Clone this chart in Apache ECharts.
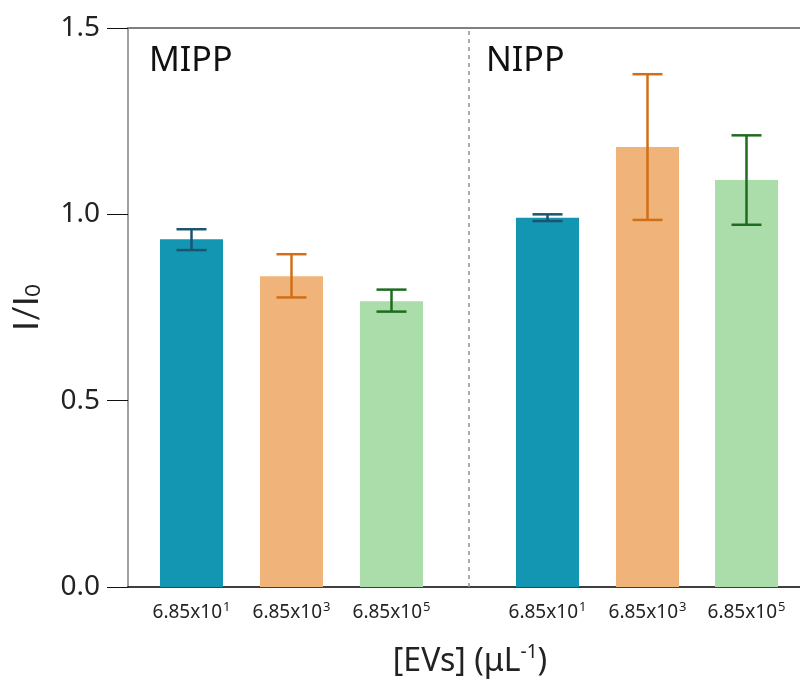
<!DOCTYPE html>
<html><head><meta charset="utf-8">
<script src="https://cdn.jsdelivr.net/npm/echarts@6/dist/echarts.min.js"></script>
<style>html,body{margin:0;padding:0;background:#fff}#c{width:800px;height:681px}</style>
</head><body><div id="c"></div>
<script>
const groupNames = ['MIPP', 'NIPP'];
const tickBase = ['6.85x10', '6.85x10', '6.85x10', '6.85x10', '6.85x10', '6.85x10'];
const tickExp = ['1', '3', '5', '1', '3', '5'];
const xPositions = [0, 1, 2, 3.56, 4.56, 5.55];
const means = [0.933, 0.834, 0.767, 0.991, 1.181, 1.092];
const errLow = [0.904, 0.777, 0.739, 0.982, 0.985, 0.972];
const errHigh = [0.960, 0.893, 0.798, 1.000, 1.376, 1.212];
const dividerX = 2.775;
const yTicks = [0, 0.5, 1.0, 1.5];

const barColors = ['#1396B2', '#F0B47A', '#AADDA9', '#1396B2', '#F0B47A', '#AADDA9'];
const errColors = ['#1C5470', '#CF7018', '#1F6B1F', '#1C5470', '#CF7018', '#1F6B1F'];
const FONT = '"Noto Sans", sans-serif';
const NAMEFONT = 'Lato, "Noto Sans", sans-serif';

const xMin = -0.635, xMax = 6.085;

const chart = echarts.init(document.getElementById('c'), null, {renderer: 'canvas'});
const labelMap = {};
xPositions.forEach((p, i) => { labelMap[p.toFixed(2)] = i; });

chart.setOption({
  animation: false,
  backgroundColor: '#fff',
  textStyle: {fontFamily: FONT},
  grid: {left: 128, right: 0, top: 28, bottom: 94, containLabel: false, outerBoundsMode: 'none'},
  xAxis: [{
    type: 'value', min: xMin, max: xMax, position: 'bottom',
    splitLine: {show: false},
    axisLine: {show: true, onZero: false, lineStyle: {color: '#000', width: 1.5}},
    axisTick: {show: false},
    axisLabel: {
      customValues: xPositions,
      margin: 14,
      fontFamily: FONT,
      formatter: v => {
        const i = labelMap[Number(v).toFixed(2)];
        if (i === undefined) return '';
        return '{b|' + tickBase[i] + '}{s|' + tickExp[i] + '}';
      },
      rich: {
        b: {fontSize: 19, fontFamily: FONT, color: '#222'},
        s: {fontSize: 13, fontFamily: FONT, color: '#222', padding: [0, 0, 10, 1]}
      }
    },
    name: '{n|[EVs] (μL}{s|-1}{n|)}',
    nameLocation: 'middle', nameGap: 56,
    nameTextStyle: {
      fontFamily: FONT,
      padding: [0, 0, 0, 12],
      rich: {
        n: {fontSize: 32, fontFamily: FONT, color: '#222'},
        s: {fontSize: 19, fontFamily: FONT, color: '#222', padding: [0, 0, 18, 0]}
      }
    }
  }, {
    type: 'value', min: xMin, max: xMax, position: 'top',
    splitLine: {show: false},
    axisLine: {show: true, onZero: false, lineStyle: {color: '#808080', width: 2}},
    axisTick: {show: false}, axisLabel: {show: false}
  }],
  yAxis: {
    type: 'value', min: 0, max: 1.5, interval: 0.5,
    splitLine: {show: false},
    axisLine: {show: true, onZero: false, lineStyle: {color: '#808080', width: 1.5}},
    axisTick: {show: true, length: 21, lineStyle: {color: '#111', width: 1}},
    axisLabel: {
      customValues: yTicks,
      margin: 28, fontSize: 28, fontFamily: FONT, color: '#222',
      formatter: v => Number(v).toFixed(1)
    },
    name: '{n|I/I}{s|0}',
    nameLocation: 'middle', nameGap: 84, nameRotate: 90,
    nameTextStyle: {
      fontFamily: NAMEFONT,
      rich: {
        n: {fontSize: 34, fontFamily: NAMEFONT, color: '#222'},
        s: {fontSize: 21, fontFamily: NAMEFONT, color: '#222', padding: [12, 0, 0, 0]}
      }
    }
  },
  graphic: [
    {type: 'text', left: 149, top: 44, style: {text: groupNames[0], font: '34px ' + FONT, fill: '#111'}},
    {type: 'text', left: 486, top: 44, style: {text: groupNames[1], font: '34px ' + FONT, fill: '#111'}}
  ],
  series: [{
    type: 'bar', xAxisIndex: 0, barWidth: 63,
    data: xPositions.map((x, i) => ({value: [x, means[i]], itemStyle: {color: barColors[i]}})),
    markLine: {
      silent: true, symbol: 'none', label: {show: false},
      lineStyle: {type: [4, 4], color: '#909090', width: 1.5},
      data: [{xAxis: dividerX}]
    }
  }, {
    type: 'custom', xAxisIndex: 0,
    data: xPositions.map((x, i) => [x, errLow[i], errHigh[i], i]),
    renderItem: (params, api) => {
      const x = api.value(0);
      const lo = api.coord([x, api.value(1)]);
      const hi = api.coord([x, api.value(2)]);
      const c = errColors[api.value(3)];
      const hw = 15;
      const st = {stroke: c, lineWidth: 2.5};
      return {type: 'group', children: [
        {type: 'line', shape: {x1: lo[0], y1: lo[1], x2: hi[0], y2: hi[1]}, style: st},
        {type: 'line', shape: {x1: lo[0] - hw, y1: lo[1], x2: lo[0] + hw, y2: lo[1]}, style: st},
        {type: 'line', shape: {x1: hi[0] - hw, y1: hi[1], x2: hi[0] + hw, y2: hi[1]}, style: st}
      ]};
    },
    z: 5
  }]
});
</script></body></html>
